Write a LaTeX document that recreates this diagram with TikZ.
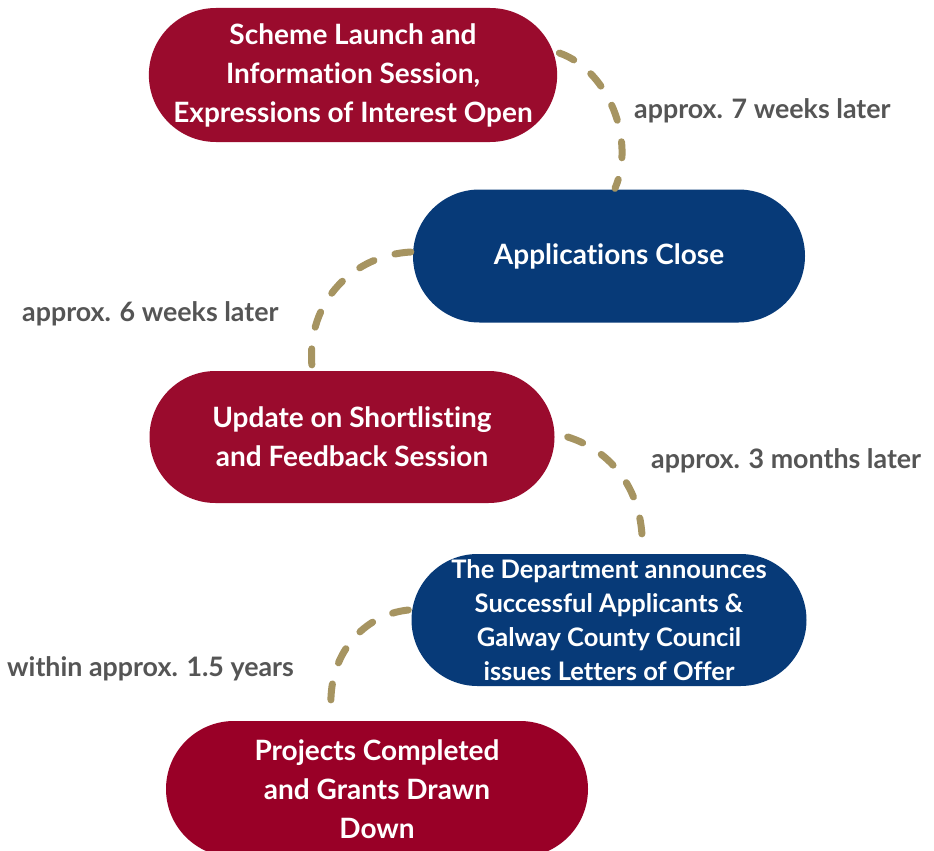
\documentclass[tikz,border=0pt]{standalone}
\usepackage{fontspec}
\setmainfont{Lato}[RawFeature={-liga;-dlig}]
\usetikzlibrary{shapes.misc}
\definecolor{gwred}{HTML}{9A0B2D}
\definecolor{gwredb}{HTML}{990027}
\definecolor{gwblue}{HTML}{073A78}
\definecolor{gwgold}{HTML}{A69461}
\definecolor{gwgray}{HTML}{555555}
\tikzset{
  blob/.style={rounded rectangle, draw=none, text=white, align=center, inner sep=0pt,
    font=\fontsize{28}{39}\selectfont\bfseries},
  redblob/.style={blob, fill=gwred},
  blueblob/.style={blob, fill=gwblue},
  timelabel/.style={anchor=west, inner sep=0pt, text=gwgray, font=\fontsize{26.8}{30}\selectfont\bfseries},
  link/.style={draw=gwgold, line width=7pt, line cap=round, dash pattern=on 16pt off 22pt}
}
\begin{document}
\begin{tikzpicture}[x=1pt,y=-1pt]
\clip (0,0) rectangle (934,851);
\fill[white] (0,0) rectangle (934,851);
\node[redblob, minimum width=407pt, minimum height=134pt] (b1) at (353,75)
  {Scheme Launch and\\Information Session,\\Expressions of Interest Open};
\node[blueblob, minimum width=392pt, minimum height=133pt] (b2) at (609,256)
  {Applications Close};
\node[redblob, minimum width=405pt, minimum height=132pt] (b3) at (352,437)
  {Update on Shortlisting\\and Feedback Session};
\node[blueblob, minimum width=392pt, minimum height=132pt, font=\fontsize{25.5}{34}\selectfont\bfseries] (b4) at (609,620)
  {The Department announces\\Successful Applicants \&\\Galway County Council\\issues Letters of Offer};
\node[redblob, fill=gwredb, minimum width=422pt, minimum height=136pt] (b5) at (377,789)
  {Projects Completed\\and Grants Drawn\\Down};

\coordinate (s1) at ([shift={(2,-22)}]b1.east);
\coordinate (e1) at ([shift={(6,-1)}]b2.north);
\coordinate (s2) at ([shift={(-2,-4)}]b2.west);
\coordinate (e2) at ([shift={(-40,-4)}]b3.north);
\coordinate (s3) at ([shift={(13,0)}]b3.east);
\coordinate (e3) at ([shift={(33,0)}]b4.north);
\coordinate (s4) at ([shift={(-3,-10)}]b4.west);
\coordinate (e4) at ([shift={(-45,-3)}]b5.north);

\path[link] (s1) .. controls (608,70) and (636,140) .. (e1);
\path[link] (s2) .. controls (355,255) and (306,300) .. (e2);
\path[link] (s3) .. controls (610,450) and (646,490) .. (e3);
\path[link] (s4) .. controls (360,615) and (324,660) .. (e4);

\node[timelabel] (l1) at (634,111) {approx. 7 weeks later};
\node[timelabel] (l2) at (22,314) {approx. 6 weeks later};
\node[timelabel] (l3) at (651,461) {approx. 3 months later};
\node[timelabel] (l4) at (7,669) {within approx. 1.5 years};
\end{tikzpicture}
\end{document}
